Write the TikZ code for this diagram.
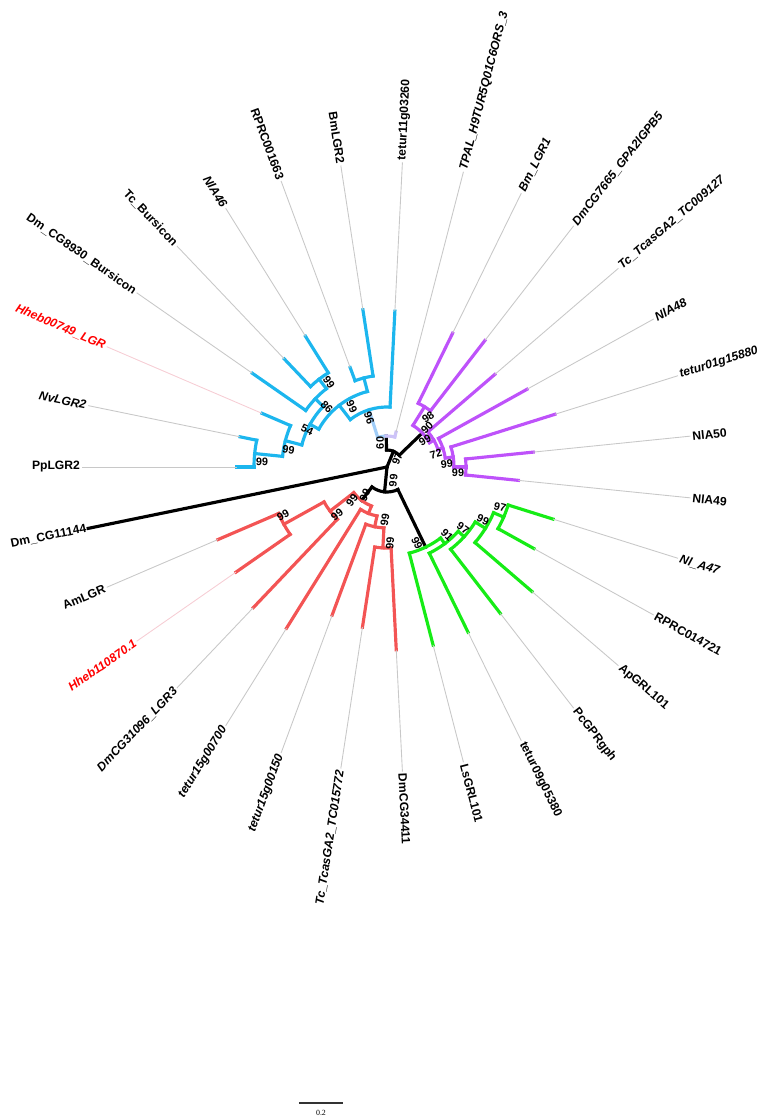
\documentclass[tikz,border=0pt]{standalone}
\usepackage{fontspec}
\setmainfont{Liberation Sans}
\newfontfamily\barfont{Liberation Serif}
\definecolor{cblu}{RGB}{28,182,238}
\definecolor{clite}{RGB}{160,205,248}
\definecolor{clav}{RGB}{205,195,248}
\definecolor{cpur}{RGB}{190,82,250}
\definecolor{cred}{RGB}{243,84,84}
\definecolor{cgrn}{RGB}{22,236,22}
\definecolor{cgry}{RGB}{200,200,200}
\definecolor{cpnk}{RGB}{246,205,212}
\definecolor{chred}{RGB}{255,0,0}
\begin{document}
\begin{tikzpicture}[x=0.02cm,y=0.02cm,
  br/.style={line width=1.8pt,line cap=rect},
  bluebr/.style={br,draw=cblu},
  litebr/.style={br,draw=clite},
  lavbr/.style={br,draw=clav},
  purbr/.style={br,draw=cpur},
  redbr/.style={br,draw=cred},
  grnbr/.style={br,draw=cgrn},
  blkbr/.style={br,draw=black},
  gry/.style={draw=cgry,line width=0.5pt},
  pnk/.style={draw=cpnk,line width=0.5pt},
  lab/.style={font=\fontsize{6.9}{8}\selectfont\bfseries,inner sep=1pt},
  ilab/.style={lab,font=\fontsize{6.9}{8}\selectfont\bfseries\itshape},
  hlab/.style={ilab,text=chred},
  bs/.style={font=\fontsize{6.2}{7}\selectfont\bfseries,inner sep=0pt}]
\useasboundingbox (-387,-650) rectangle (381,467);
\coordinate (root) at (0,0);

\draw[blkbr] (root) -- (67.68:17);
\draw[blkbr] (91.45:17) arc[start angle=91.45,end angle=43.91,radius=17];
\draw[blkbr] (91.45:17) -- (91.45:31);
\draw[blkbr] (43.91:17) -- (43.91:49);
\draw[blkbr] (root) -- (-95.62:25);
\draw[blkbr] (-64.23:25) arc[start angle=-64.23,end angle=-127.02,radius=25];
\draw[blkbr] (-64.23:25) -- (-64.23:89);
\draw[blkbr] (-127.02:25) -- (-127.02:42);

\draw[litebr] (107.42:31) arc[start angle=107.42,end angle=91.45,radius=31];
\draw[lavbr] (91.45:31) arc[start angle=91.45,end angle=75.48,radius=31];
\draw[litebr] (107.42:31) -- (107.42:60);
\draw[bluebr] (127.74:60) arc[start angle=127.74,end angle=87.10,radius=60];
\draw[bluebr] (127.74:60) -- (127.74:78);
\draw[bluebr] (150.97:78) arc[start angle=150.97,end angle=104.52,radius=78];
\draw[bluebr] (150.97:78) -- (150.97:88);
\draw[bluebr] (165.48:88) arc[start angle=165.48,end angle=136.45,radius=88];
\draw[bluebr] (165.48:88) -- (165.48:105);
\draw[bluebr] (174.19:105) arc[start angle=174.19,end angle=156.77,radius=105];
\draw[bluebr] (174.19:105) -- (174.19:133);
\draw[bluebr] (180:133) arc[start angle=180,end angle=168.39,radius=133];
\draw[bluebr] (136.45:88) -- (136.45:99);
\draw[bluebr] (145.16:99) arc[start angle=145.16,end angle=127.74,radius=99];
\draw[bluebr] (127.74:99) -- (127.74:111);
\draw[bluebr] (133.55:111) arc[start angle=133.55,end angle=121.94,radius=111];
\draw[bluebr] (104.52:78) -- (104.52:92);
\draw[bluebr] (110.32:92) arc[start angle=110.32,end angle=98.71,radius=92];

\draw[bluebr] (180:133) -- (180:150) coordinate (e0);
\draw[bluebr] (168.39:133) -- (168.39:150) coordinate (e1);
\draw[bluebr] (156.77:105) -- (156.77:136) coordinate (e2);
\draw[bluebr] (145.16:99) -- (145.16:164) coordinate (e3);
\draw[bluebr] (133.55:111) -- (133.55:149) coordinate (e4);
\draw[bluebr] (121.94:111) -- (121.94:154) coordinate (e5);
\draw[bluebr] (110.32:92) -- (110.32:106) coordinate (e6);
\draw[bluebr] (98.71:92) -- (98.71:159) coordinate (e7);
\draw[bluebr] (87.10:60) -- (87.10:156) coordinate (e8);
\draw[lavbr] (75.48:31) -- (75.48:36) coordinate (e9);

\draw[purbr] (58.06:49) arc[start angle=58.06,end angle=29.76,radius=49];
\draw[purbr] (58.06:49) -- (58.06:71);
\draw[purbr] (63.87:71) arc[start angle=63.87,end angle=52.26,radius=71];
\draw[purbr] (29.76:49) -- (29.76:54);
\draw[purbr] (40.65:54) arc[start angle=40.65,end angle=18.87,radius=54];
\draw[purbr] (18.87:54) -- (18.87:59);
\draw[purbr] (29.03:59) arc[start angle=29.03,end angle=8.71,radius=59];
\draw[purbr] (8.71:59) -- (8.71:67);
\draw[purbr] (17.42:67) arc[start angle=17.42,end angle=0,radius=67];
\draw[purbr] (0:67) -- (0:79);
\draw[purbr] (5.81:79) arc[start angle=5.81,end angle=-5.81,radius=79];

\draw[purbr] (63.87:71) -- (63.87:149) coordinate (e10);
\draw[purbr] (52.26:71) -- (52.26:160) coordinate (e11);
\draw[purbr] (40.65:54) -- (40.65:142) coordinate (e12);
\draw[purbr] (29.03:59) -- (29.03:160) coordinate (e13);
\draw[purbr] (17.42:67) -- (17.42:176) coordinate (e14);
\draw[purbr] (5.81:79) -- (5.81:147) coordinate (e15);
\draw[purbr] (-5.81:79) -- (-5.81:132) coordinate (e16);

\draw[grnbr] (-52.98:89) arc[start angle=-52.98,end angle=-75.48,radius=89];
\draw[grnbr] (-52.98:89) -- (-52.98:96);
\draw[grnbr] (-42.10:96) arc[start angle=-42.10,end angle=-63.87,radius=96];
\draw[grnbr] (-42.10:96) -- (-42.10:104);
\draw[grnbr] (-31.94:104) arc[start angle=-31.94,end angle=-52.26,radius=104];
\draw[grnbr] (-31.94:104) -- (-31.94:116);
\draw[grnbr] (-23.23:116) arc[start angle=-23.23,end angle=-40.65,radius=116];
\draw[grnbr] (-23.23:116) -- (-23.23:127);
\draw[grnbr] (-17.42:127) arc[start angle=-17.42,end angle=-29.03,radius=127];

\draw[grnbr] (-17.42:127) -- (-17.42:174) coordinate (e17);
\draw[grnbr] (-29.03:127) -- (-29.03:168) coordinate (e18);
\draw[grnbr] (-40.65:116) -- (-40.65:191) coordinate (e19);
\draw[grnbr] (-52.26:104) -- (-52.26:185) coordinate (e20);
\draw[grnbr] (-63.87:96) -- (-63.87:184) coordinate (e21);
\draw[grnbr] (-75.48:89) -- (-75.48:184) coordinate (e22);

\draw[redbr] (-111.77:42) arc[start angle=-111.77,end angle=-142.26,radius=42];
\draw[redbr] (-111.77:42) -- (-111.77:50);
\draw[redbr] (-101.61:50) arc[start angle=-101.61,end angle=-121.94,radius=50];
\draw[redbr] (-101.61:50) -- (-101.61:61);
\draw[redbr] (-92.90:61) arc[start angle=-92.90,end angle=-110.32,radius=61];
\draw[redbr] (-92.90:61) -- (-92.90:81);
\draw[redbr] (-87.10:81) arc[start angle=-87.10,end angle=-98.71,radius=81];
\draw[redbr] (-142.26:42) -- (-142.26:72);
\draw[redbr] (-133.55:72) arc[start angle=-133.55,end angle=-150.97,radius=72];
\draw[redbr] (-150.97:72) -- (-150.97:118);
\draw[redbr] (-145.16:118) arc[start angle=-145.16,end angle=-156.77,radius=118];

\draw[redbr] (-87.10:81) -- (-87.10:183) coordinate (e23);
\draw[redbr] (-98.71:81) -- (-98.71:162) coordinate (e24);
\draw[redbr] (-110.32:61) -- (-110.32:158) coordinate (e25);
\draw[redbr] (-121.94:50) -- (-121.94:190) coordinate (e26);
\draw[redbr] (-133.55:72) -- (-133.55:194) coordinate (e27);
\draw[redbr] (-145.16:118) -- (-145.16:184) coordinate (e28);
\draw[redbr] (-156.77:118) -- (-156.77:184) coordinate (e29);

\node[lab,anchor=east] (t0) at (180:305) {PpLGR2};
\node[ilab,anchor=east,rotate=-11.61] (t1) at (168.39:305) {NvLGR2};
\node[hlab,anchor=east,rotate=-23.23] (t2) at (156.77:305) {Hheb00749\_LGR};
\node[lab,anchor=east,rotate=-34.84] (t3) at (145.16:305) {Dm\_CG8930\_Bursicon};
\node[lab,anchor=east,rotate=-46.45] (t4) at (133.55:305) {Tc\_Bursicon};
\node[ilab,anchor=east,rotate=-58.06] (t5) at (121.94:305) {NlA46};
\node[lab,anchor=east,rotate=-69.68] (t6) at (110.32:305) {RPRC001663};
\node[lab,anchor=east,rotate=-81.29] (t7) at (98.71:305) {BmLGR2};
\node[lab,anchor=west,rotate=87.10] (t8) at (87.10:305) {tetur11g03260};
\node[ilab,anchor=west,rotate=75.48] (t9) at (75.48:305) {TPAL\_H9TUR5Q01C6ORS\_3};
\node[ilab,anchor=west,rotate=63.87] (t10) at (63.87:305) {Bm\_LGR1};
\node[ilab,anchor=west,rotate=52.26] (t11) at (52.26:305) {DmCG7665\_GPA2lGPB5};
\node[ilab,anchor=west,rotate=40.65] (t12) at (40.65:305) {Tc\_TcasGA2\_TC009127};
\node[ilab,anchor=west,rotate=29.03] (t13) at (29.03:305) {NlA48};
\node[ilab,anchor=west,rotate=17.42] (t14) at (17.42:305) {tetur01g15880};
\node[lab,anchor=west,rotate=5.81] (t15) at (5.81:305) {NlA50};
\node[lab,anchor=west,rotate=-5.81] (t16) at (-5.81:305) {NlA49};
\node[ilab,anchor=west,rotate=-17.42] (t17) at (-17.42:305) {Nl\_A47};
\node[lab,anchor=west,rotate=-29.03] (t18) at (-29.03:305) {RPRC014721};
\node[lab,anchor=west,rotate=-40.65] (t19) at (-40.65:305) {ApGRL101};
\node[lab,anchor=west,rotate=-52.26] (t20) at (-52.26:305) {PcGPRgph};
\node[lab,anchor=west,rotate=-63.87] (t21) at (-63.87:305) {tetur09g05380};
\node[lab,anchor=west,rotate=-75.48] (t22) at (-75.48:305) {LsGRL101};
\node[lab,anchor=west,rotate=-87.10] (t23) at (-87.10:305) {DmCG34411};
\node[ilab,anchor=east,rotate=81.29] (t24) at (-98.71:305) {Tc\_TcasGA2\_TC015772};
\node[ilab,anchor=east,rotate=69.68] (t25) at (-110.32:305) {tetur15g00150};
\node[ilab,anchor=east,rotate=58.06] (t26) at (-121.94:305) {tetur15g00700};
\node[ilab,anchor=east,rotate=46.45] (t27) at (-133.55:305) {DmCG31096\_LGR3};
\node[hlab,anchor=east,rotate=34.84] (t28) at (-145.16:305) {Hheb110870.1};
\node[lab,anchor=east,rotate=23.23] (t29) at (-156.77:305) {AmLGR};
\node[lab,anchor=east,rotate=11.61] (t30) at (-168.39:305) {Dm\_CG11144};

\draw[gry] (e0) -- (t0);
\draw[gry] (e1) -- (t1);
\draw[pnk] (e2) -- (t2);
\draw[gry] (e3) -- (t3);
\draw[gry] (e4) -- (t4);
\draw[gry] (e5) -- (t5);
\draw[gry] (e6) -- (t6);
\draw[gry] (e7) -- (t7);
\draw[gry] (e8) -- (t8);
\draw[gry] (e9) -- (t9);
\draw[gry] (e10) -- (t10);
\draw[gry] (e11) -- (t11);
\draw[gry] (e12) -- (t12);
\draw[gry] (e13) -- (t13);
\draw[gry] (e14) -- (t14);
\draw[gry] (e15) -- (t15);
\draw[gry] (e16) -- (t16);
\draw[gry] (e17) -- (t17);
\draw[gry] (e18) -- (t18);
\draw[gry] (e19) -- (t19);
\draw[gry] (e20) -- (t20);
\draw[gry] (e21) -- (t21);
\draw[gry] (e22) -- (t22);
\draw[gry] (e23) -- (t23);
\draw[gry] (e24) -- (t24);
\draw[gry] (e25) -- (t25);
\draw[gry] (e26) -- (t26);
\draw[gry] (e27) -- (t27);
\draw[pnk] (e28) -- (t28);
\draw[gry] (e29) -- (t29);
\draw[blkbr] (root) -- (t30);

\node[bs,rotate=-2] at (177.7:125) {99};
\node[bs,rotate=-10] at (170.3:100) {99};
\node[bs,rotate=-25] at (155.2:88) {54};
\node[bs,rotate=-45] at (135:85) {86};
\node[bs,rotate=-55] at (124.3:103) {99};
\node[bs,rotate=-65] at (120.2:70) {99};
\node[bs,rotate=-70] at (110:52) {96};
\node[bs,rotate=90] at (106:25) {60};
\node[bs,rotate=70] at (38:13) {97};
\node[bs,rotate=44] at (44.3:56) {90};
\node[bs,rotate=35] at (50.6:64.7) {98};
\node[bs,rotate=30] at (35.4:46.6) {99};
\node[bs,rotate=15] at (14.9:50.7) {72};
\node[bs,rotate=5] at (2.9:60) {99};
\node[bs] at (-4.8:71.3) {99};
\node[bs,rotate=84] at (-65:15) {99};
\node[bs,rotate=-65] at (-68.5:81.7) {99};
\node[bs,rotate=-45] at (-48.6:90.7) {91};
\node[bs,rotate=-35] at (-38.7:97.5) {97};
\node[bs,rotate=-25] at (-28.9:109.7) {99};
\node[bs,rotate=-15] at (-19.5:119.9) {97};
\node[bs,rotate=53] at (-136.7:48) {99};
\node[bs,rotate=65] at (-128.2:35.6) {99};
\node[bs,rotate=38] at (-136.2:69.3) {99};
\node[bs,rotate=29] at (-155.2:114.5) {99};
\node[bs,rotate=80] at (-92.2:53) {99};
\node[bs,rotate=87] at (-87.7:76) {99};

\coordinate (sb1) at (-88,-636);
\coordinate (sb2) at (-44,-636);
\draw[line width=0.6pt,draw=black!80] (sb1) -- (sb2);
\node[font=\barfont\fontsize{4.5}{5}\selectfont] (sbl) at (-66,-646) {0.2};
\end{tikzpicture}
\end{document}
